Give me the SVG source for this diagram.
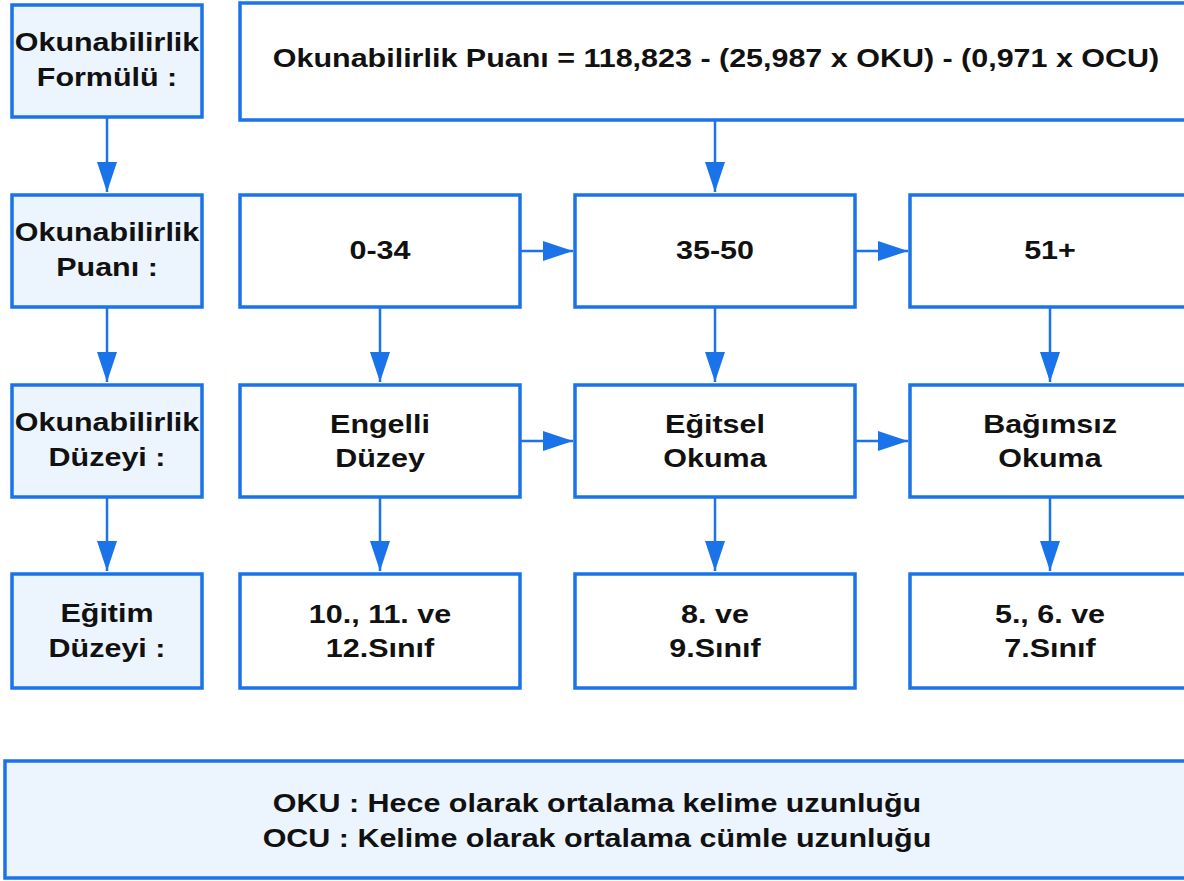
<svg xmlns="http://www.w3.org/2000/svg" width="1184" height="881" viewBox="0 0 1184 881">
<style>
.box{fill:#ffffff;stroke:#1a73e8;stroke-width:3.5}
.lbl{fill:#ecf4fe;stroke:#1a73e8;stroke-width:3.5}
.t{font-family:"Liberation Sans",Arial,sans-serif;font-weight:bold;font-size:26.5px;fill:#111;text-anchor:middle}
.c{stroke:#1a73e8;stroke-width:2.5;fill:none;marker-end:url(#ah)}
</style>
<defs>
<marker id="ah" markerUnits="userSpaceOnUse" markerWidth="31" markerHeight="21" refX="30" refY="10" orient="auto" viewBox="0 0 31 21">
<path d="M0,0 L30,10 L0,20 Z" fill="#1a73e8"/>
</marker>
</defs>
<rect width="1184" height="881" fill="#ffffff"/>
<g id="connectors">
<line class="c" x1="107" y1="117" x2="107" y2="192"/>
<line class="c" x1="107" y1="307" x2="107" y2="382"/>
<line class="c" x1="107" y1="497" x2="107" y2="571"/>
<line class="c" x1="715" y1="120" x2="715" y2="192"/>
<line class="c" x1="520" y1="251" x2="573" y2="251"/>
<line class="c" x1="855" y1="251" x2="908" y2="251"/>
<line class="c" x1="380" y1="307" x2="380" y2="382"/>
<line class="c" x1="715" y1="307" x2="715" y2="382"/>
<line class="c" x1="1050" y1="307" x2="1050" y2="382"/>
<line class="c" x1="520" y1="441" x2="573" y2="441"/>
<line class="c" x1="855" y1="441" x2="908" y2="441"/>
<line class="c" x1="380" y1="497" x2="380" y2="571"/>
<line class="c" x1="715" y1="497" x2="715" y2="571"/>
<line class="c" x1="1050" y1="497" x2="1050" y2="571"/>
</g>
<g id="lbl-formula">
<rect class="lbl" x="12" y="5" width="190" height="112"/>
<text class="t" transform="translate(107,51) scale(1.15,1)">Okunabilirlik</text>
<text class="t" transform="translate(107,86) scale(1.15,1)">Formülü :</text>
</g>
<g id="lbl-puan">
<rect class="lbl" x="12" y="195" width="190" height="112"/>
<text class="t" transform="translate(107,241) scale(1.15,1)">Okunabilirlik</text>
<text class="t" transform="translate(107,276) scale(1.15,1)">Puanı :</text>
</g>
<g id="lbl-duzey">
<rect class="lbl" x="12" y="385" width="190" height="112"/>
<text class="t" transform="translate(107,431) scale(1.15,1)">Okunabilirlik</text>
<text class="t" transform="translate(107,466) scale(1.15,1)">Düzeyi :</text>
</g>
<g id="lbl-egitim">
<rect class="lbl" x="12" y="574" width="190" height="114"/>
<text class="t" transform="translate(107,622) scale(1.15,1)">Eğitim</text>
<text class="t" transform="translate(107,657) scale(1.15,1)">Düzeyi :</text>
</g>
<g id="formula">
<rect class="box" x="240" y="3" width="952" height="117"/>
<text class="t" transform="translate(716,67) scale(1.15,1)">Okunabilirlik Puanı = 118,823 - (25,987 x OKU) - (0,971 x OCU)</text>
</g>
<g id="p034">
<rect class="box" x="240" y="195" width="280" height="112"/>
<text class="t" transform="translate(380,259) scale(1.15,1)">0-34</text>
</g>
<g id="p3550">
<rect class="box" x="575" y="195" width="280" height="112"/>
<text class="t" transform="translate(715,259) scale(1.15,1)">35-50</text>
</g>
<g id="p51">
<rect class="box" x="910" y="195" width="282" height="112"/>
<text class="t" transform="translate(1050,259) scale(1.15,1)">51+</text>
</g>
<g id="engelli">
<rect class="box" x="240" y="385" width="280" height="112"/>
<text class="t" transform="translate(380,433) scale(1.15,1)">Engelli</text>
<text class="t" transform="translate(380,467) scale(1.15,1)">Düzey</text>
</g>
<g id="egitsel">
<rect class="box" x="575" y="385" width="280" height="112"/>
<text class="t" transform="translate(715,433) scale(1.15,1)">Eğitsel</text>
<text class="t" transform="translate(715,467) scale(1.15,1)">Okuma</text>
</g>
<g id="bagimsiz">
<rect class="box" x="910" y="385" width="282" height="112"/>
<text class="t" transform="translate(1050,433) scale(1.15,1)">Bağımsız</text>
<text class="t" transform="translate(1050,467) scale(1.15,1)">Okuma</text>
</g>
<g id="sinif10">
<rect class="box" x="240" y="574" width="280" height="114"/>
<text class="t" transform="translate(380,623) scale(1.15,1)">10., 11. ve</text>
<text class="t" transform="translate(380,657) scale(1.15,1)">12.Sınıf</text>
</g>
<g id="sinif8">
<rect class="box" x="575" y="574" width="280" height="114"/>
<text class="t" transform="translate(715,623) scale(1.15,1)">8. ve</text>
<text class="t" transform="translate(715,657) scale(1.15,1)">9.Sınıf</text>
</g>
<g id="sinif5">
<rect class="box" x="910" y="574" width="282" height="114"/>
<text class="t" transform="translate(1050,623) scale(1.15,1)">5., 6. ve</text>
<text class="t" transform="translate(1050,657) scale(1.15,1)">7.Sınıf</text>
</g>
<g id="legend">
<rect class="lbl" x="5" y="761" width="1187" height="117"/>
<text class="t" transform="translate(597,812) scale(1.15,1)">OKU : Hece olarak ortalama kelime uzunluğu</text>
<text class="t" transform="translate(597,847) scale(1.15,1)">OCU : Kelime olarak ortalama cümle uzunluğu</text>
</g>
</svg>
